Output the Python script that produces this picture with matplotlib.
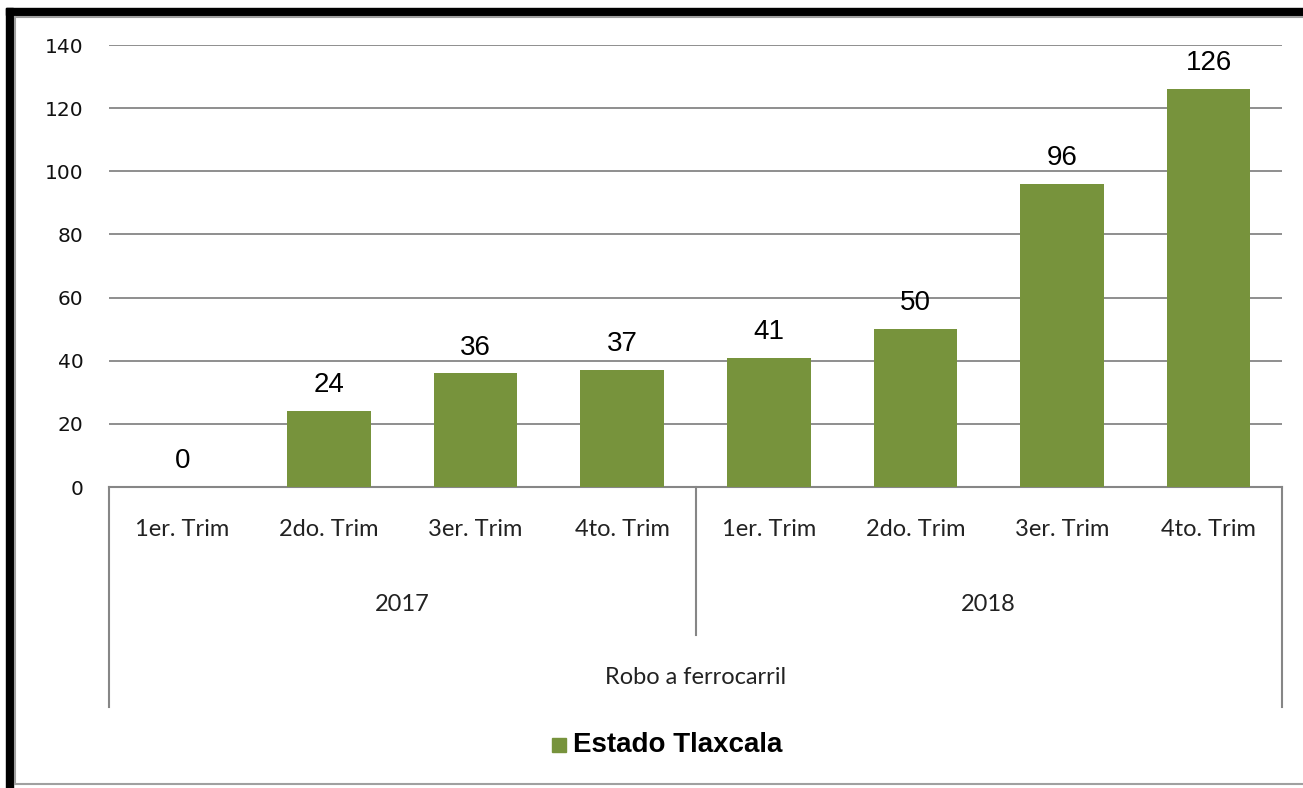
import numpy as np
import matplotlib.pyplot as plt
from matplotlib.lines import Line2D
from matplotlib.patches import Rectangle

# data
quarters = ['1er. Trim', '2do. Trim', '3er. Trim', '4to. Trim',
            '1er. Trim', '2do. Trim', '3er. Trim', '4to. Trim']
years = ['2017', '2018']
values = [0, 24, 36, 37, 41, 50, 96, 126]
group_label = 'Robo a ferrocarril'
series_name = 'Estado Tlaxcala'

green = '#77933C'
grid_c = '#868686'
W, H = 1303, 788

fig = plt.figure(figsize=(W / 100, H / 100), dpi=100)
ax = fig.add_axes([109 / W, 1 - 487 / H, (1282 - 109) / W, (487 - 45) / H])

x = np.arange(len(values))
ax.bar(x, values, width=0.57, color=green, zorder=3)
ax.set_xlim(-0.5, len(values) - 0.5)
ax.set_ylim(0, 140)
ax.set_yticks(np.arange(0, 141, 20))
ax.yaxis.grid(True, color=grid_c, lw=1.3, zorder=0)
for s in ax.spines.values():
    s.set_visible(False)
ax.tick_params(axis='y', length=0, pad=18.5, labelsize=14.5)
ax.tick_params(axis='x', length=0, labelbottom=False)
for lab in ax.get_yticklabels():
    lab.set_fontfamily('DejaVu Sans')
    lab.set_color('#111111')
    lab.set_fontweight('medium')

for xi, v in zip(x, values):
    ax.annotate(str(v), (xi, v), xytext=(0, 13.5), textcoords='offset points',
                ha='center', va='baseline', fontsize=20, family='Liberation Sans')

# multi-level category axis
tr = ax.get_xaxis_transform()
ax.add_line(Line2D([-0.5, 7.5], [0, 0], transform=tr, color=grid_c, lw=1.5, clip_on=False))
for xv, yb in [(-0.5, -0.498), (3.5, -0.335), (7.5, -0.498)]:
    ax.add_line(Line2D([xv, xv], [0, yb], transform=tr, color=grid_c, lw=1.5, clip_on=False))
for xi, q in zip(x, quarters):
    ax.text(xi, -0.097, q, transform=tr, ha='center', va='center', fontsize=17,
            family='Lato', color='#222222')
for i, yr in enumerate(years):
    ax.text(1.5 + 4 * i, -0.265, yr, transform=tr, ha='center', va='center', fontsize=17,
            family='Lato', color='#222222')
ax.text(3.5, -0.432, group_label, transform=tr, ha='center', va='center', fontsize=17,
        family='Lato', color='#222222')

# legend
fig.patches.append(Rectangle((552 / W, 1 - 752 / H), 14 / W, 14 / H,
                             transform=fig.transFigure, color=green))
fig.text(573 / W, 1 - 745 / H, series_name, ha='left', va='center', fontsize=20,
         fontweight='bold', family='Liberation Sans')

# frame
fig.patches.append(Rectangle((6 / W, 0), 7 / W, 1 - 8 / H, transform=fig.transFigure,
                             color='black'))
fig.patches.append(Rectangle((6 / W, 1 - 15 / H), 1 - 6 / W, 7 / H, transform=fig.transFigure,
                             color='black'))
fig.add_artist(Line2D([15 / W, 15 / W], [1 - 17 / H, 1 - 784 / H], color='#a0a0a0', lw=1.5))
fig.add_artist(Line2D([15 / W, 1], [1 - 17 / H, 1 - 17 / H], color='#a0a0a0', lw=1.5))
fig.add_artist(Line2D([15 / W, 1], [1 - 784 / H, 1 - 784 / H], color='#a0a0a0', lw=1.5))

fig.savefig('out.png', dpi=100)
